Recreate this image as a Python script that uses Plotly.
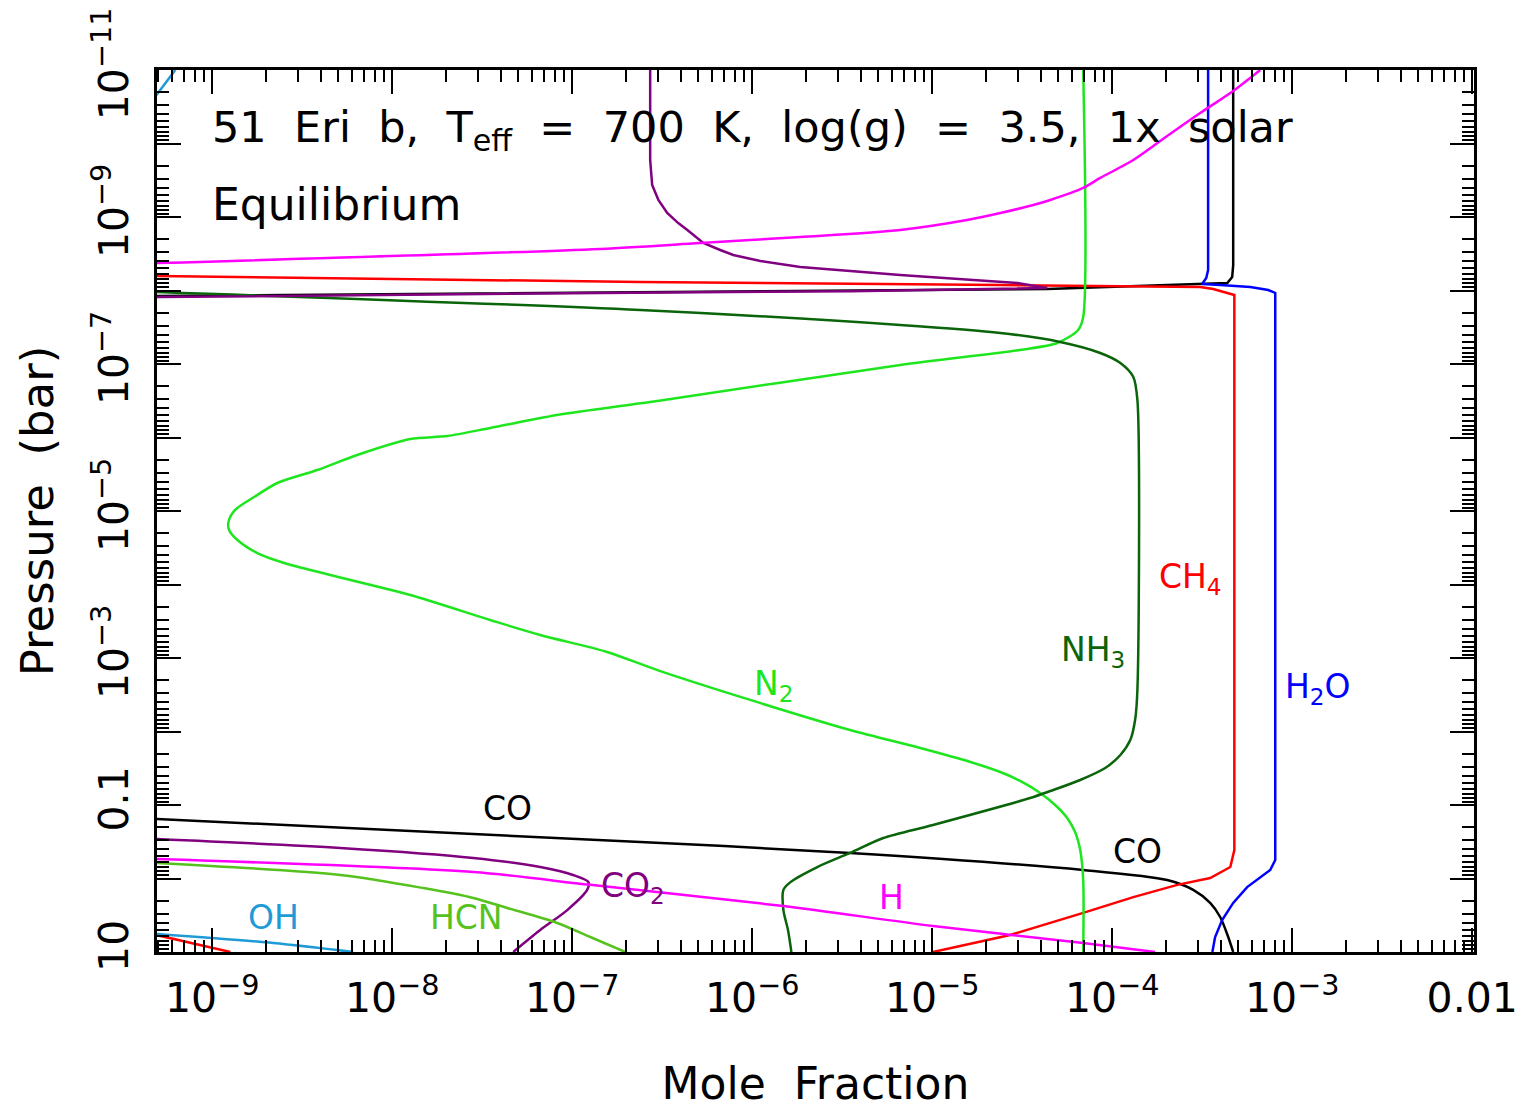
import math
import plotly.graph_objects as go

# ---------------- data (mole fraction vs pressure in bar) ----------------
h2o_x = [3.41e-4, 3.41e-4, 3.33e-4, 3.16e-4, 3.98e-4, 5.85e-4, 7.36e-4, 8.05e-4, 8.05e-4,
         8.05e-4, 7.55e-4, 5.62e-4, 4.70e-4, 4.08e-4, 3.73e-4, 3.60e-4]
h2o_p = [1e-11, 5.26e-9, 6.76e-9, 8.17e-9, 8.41e-9, 8.95e-9, 9.84e-9, 1.08e-8, 0.41,
         0.56, 0.766, 1.31, 2.15, 3.67, 6.25, 10]

co_top_x = [4.70e-4, 4.70e-4, 4.64e-4, 4.36e-4, 4.36e-5, 4.9e-10]
co_top_p = [1e-11, 4.5e-9, 6.55e-9, 7.91e-9, 9.55e-9, 1.19e-8]
co_bot_x = [4.9e-10, 2.39e-7, 3.50e-6, 6.90e-5, 2.02e-4, 2.82e-4, 3.50e-4, 3.98e-4, 4.41e-4, 4.70e-4]
co_bot_p = [0.155, 0.318, 0.449, 0.766, 1.05, 1.43, 2.15, 3.34, 6.25, 10]

ch4_x = [4.9e-10, 2.39e-7, 2.39e-5, 3.08e-4, 3.64e-4, 4.77e-4, 4.77e-4, 4.53e-4, 3.50e-4,
         2.30e-4, 1.31e-4, 8.58e-5, 6.90e-5, 2.71e-5, 1.01e-5]
ch4_p = [6.35e-9, 7.66e-9, 8.41e-9, 8.95e-9, 9.55e-9, 1.15e-8, 0.41, 0.698, 0.984,
         1.22, 1.79, 2.52, 2.94, 5.87, 10]
red_extra_x = [4.9e-10, 1.26e-9]
red_extra_p = [5.87, 10]

n2_x = [6.90e-5, 6.90e-5, 6.47e-5, 4.95e-5, 3.08e-5, 6.64e-6, 2.97e-7, 8.25e-8, 3.50e-8, 2.02e-8,
        1.26e-8, 6.39e-9, 3.83e-9, 2.30e-9, 1.71e-9, 1.34e-9, 1.23e-9, 1.24e-9, 1.38e-9, 1.78e-9,
        2.51e-9, 4.53e-9, 1.26e-8, 3.50e-8, 6.64e-8, 1.56e-7, 2.97e-7, 9.75e-7, 3.50e-6, 8.58e-6,
        1.63e-5, 2.39e-5, 3.08e-5, 3.98e-5, 4.82e-5, 5.62e-5, 6.22e-5, 6.64e-5, 6.90e-5, 6.90e-5]
n2_p = [1e-11, 2.30e-8, 3.44e-8, 5.18e-8, 6.45e-8, 1.03e-7, 3.19e-7, 4.94e-7, 7.43e-7, 9.55e-7,
        1.05e-6, 1.73e-6, 2.77e-6, 4.16e-6, 6.45e-6, 9.68e-6, 1.41e-5, 1.81e-5, 2.48e-5, 3.73e-5,
        5.09e-5, 7.43e-5, 1.39e-4, 3.04e-4, 4.86e-4, 8.28e-4, 1.46e-3, 3.72e-3, 9.55e-3, 0.0168,
        0.026, 0.0356, 0.0471, 0.0687, 0.100, 0.150, 0.233, 0.41, 1.05, 10]

nh3_x = [4.9e-10, 2.39e-7, 6.64e-6, 2.39e-5, 5.14e-5, 8.58e-5, 1.11e-4, 1.31e-4, 1.38e-4,
         1.38e-4, 1.34e-4, 1.26e-4, 1.11e-4, 9.14e-5, 6.64e-5, 4.53e-5, 3.50e-5, 1.01e-5,
         5.35e-6, 3.50e-6, 2.30e-6, 1.63e-6, 1.49e-6, 1.49e-6, 1.58e-6, 1.65e-6]
nh3_p = [1.05e-8, 1.84e-8, 2.94e-8, 3.78e-8, 5.02e-8, 7.08e-8, 9.68e-8, 1.50e-7, 3.09e-7,
         2.72e-3, 6.98e-3, 0.0131, 0.0209, 0.0314, 0.0457, 0.0646, 0.0804, 0.187,
         0.281, 0.449, 0.698, 1.12, 1.43, 2.69, 5.02, 10]

co2_top_x = [2.71e-7, 2.71e-7, 2.78e-7, 2.89e-7, 3.01e-7, 3.37e-7, 3.88e-7, 4.36e-7, 5.35e-7,
             6.64e-7, 7.84e-7, 1.11e-6, 1.85e-6, 6.64e-6, 1.56e-5, 2.97e-5, 4.36e-5, 3.50e-6,
             1.43e-7, 4.9e-10]
co2_top_p = [1e-11, 1.68e-10, 3.67e-10, 4.71e-10, 5.87e-10, 8.82e-10, 1.21e-9, 1.50e-9, 2.26e-9,
             2.81e-9, 3.29e-9, 3.97e-9, 4.79e-9, 6.15e-9, 7.19e-9, 7.91e-9, 9.25e-9, 1.02e-8,
             1.08e-8, 1.23e-8]
co2_bot_x = [4.9e-10, 5.14e-9, 2.82e-8, 6.64e-8, 1.01e-7, 1.23e-7, 1.21e-7, 9.38e-8, 6.64e-8, 4.70e-8]
co2_bot_p = [0.290, 0.385, 0.526, 0.698, 0.896, 1.12, 1.43, 2.69, 5.02, 10]

h_top_x = [6.64e-4, 4.70e-4, 3.08e-4, 2.02e-4, 1.31e-4, 8.58e-5, 6.90e-5, 4.53e-5, 3.64e-5,
           2.39e-5, 1.56e-5, 6.64e-6, 1.85e-6, 5.14e-7, 1.43e-7, 4.9e-10]
h_top_p = [1e-11, 1.93e-11, 3.85e-11, 7.91e-11, 1.68e-10, 2.94e-10, 4.03e-10, 5.87e-10, 6.87e-10,
           8.82e-10, 1.10e-9, 1.50e-9, 1.87e-9, 2.26e-9, 2.72e-9, 4.23e-9]
h_bot_x = [4.9e-10, 2.82e-8, 1.26e-7, 1.49e-6, 1.01e-5, 6.90e-5, 1.73e-4]
h_bot_p = [0.543, 0.817, 1.22, 2.37, 4.43, 7.55, 10]

hcn_x = [4.9e-10, 5.14e-9, 1.49e-8, 2.82e-8, 4.36e-8, 8.25e-8, 1.26e-7, 1.97e-7]
hcn_p = [0.615, 0.896, 1.35, 1.84, 2.52, 4.03, 6.25, 10]

oh_top_x = [6.23e-10, 4.9e-10]
oh_top_p = [1e-11, 2.19e-11]
oh_bot_x = [4.9e-10, 2.18e-9, 6.07e-9]
oh_bot_p = [5.69, 7.55, 10]

# tick labels
x_tickvals = [1e-9, 1e-8, 1e-7, 1e-6, 1e-5, 1e-4, 1e-3, 1e-2]
x_ticktext = ["10<sup>−9</sup>", "10<sup>−8</sup>", "10<sup>−7</sup>", "10<sup>−6</sup>",
              "10<sup>−5</sup>", "10<sup>−4</sup>", "10<sup>−3</sup>", "0.01"]
y_tickvals = [1e-11, 1e-10, 1e-9, 1e-8, 1e-7, 1e-6, 1e-5, 1e-4, 1e-3, 1e-2, 1e-1, 1, 10]
y_ticktext = ["10<sup>−11</sup>", "", "10<sup>−9</sup>", "", "10<sup>−7</sup>", "",
              "10<sup>−5</sup>", "", "10<sup>−3</sup>", "", "0.1", "", "10"]

# species labels: text, colour, position (mole fraction, pressure)
lab_text = ["CH<sub>4</sub>", "NH<sub>3</sub>", "H<sub>2</sub>O", "N<sub>2</sub>", "CO", "CO",
            "CO<sub>2</sub>", "H", "OH", "HCN"]
lab_color = ["#ff0000", "#0a640a", "#0000ff", "#1ee61e", "#000000", "#000000",
             "#800080", "#ff00ff", "#1e9bd7", "#55c21e"]
lab_x = [2.71e-4, 7.84e-5, 1.39e-3, 1.31e-6, 4.36e-8, 1.39e-4, 2.18e-7, 5.92e-6, 2.18e-9, 2.58e-8]
lab_p = [8.17e-5, 8.28e-4, 2.56e-3, 2.33e-3, 0.11, 0.435, 1.31, 1.79, 3.44, 3.44]

FONT = "DejaVu Sans"
LW = 2.5
SP = "\u00a0\u00a0"

fig = go.Figure()


def add(x, p, color, smooth=False):
    line = dict(color=color, width=LW)
    if smooth:
        line.update(shape="spline", smoothing=0.8)
    fig.add_trace(go.Scatter(x=x, y=p, mode="lines", line=line,
                             showlegend=False, hoverinfo="skip"))


add(co_top_x, co_top_p, "#000000")
add(co_bot_x, co_bot_p, "#000000", True)
add(h2o_x, h2o_p, "#0000ff")
add(ch4_x, ch4_p, "#ff0000")
add(red_extra_x, red_extra_p, "#ff0000")
add(n2_x, n2_p, "#1ee61e", True)
add(nh3_x, nh3_p, "#0a640a", True)
add(co2_top_x, co2_top_p, "#800080")
add(co2_bot_x, co2_bot_p, "#800080", True)
add(h_top_x, h_top_p, "#ff00ff", True)
add(h_bot_x, h_bot_p, "#ff00ff", True)
add(hcn_x, hcn_p, "#55c21e", True)
add(oh_top_x, oh_top_p, "#1e9bd7")
add(oh_bot_x, oh_bot_p, "#1e9bd7", True)

annotations = []
for t, c, x, p in zip(lab_text, lab_color, lab_x, lab_p):
    annotations.append(dict(x=math.log10(x), y=math.log10(p), xref="x", yref="y", text=t,
                            showarrow=False, font=dict(family=FONT, size=33, color=c)))

title_text = SP.join(["51", "Eri", "b,", "T<sub>eff</sub>", "=", "700", "K,", "log(g)", "=",
                      "3.5,", "1x", "solar"])
annotations.append(dict(x=0.0405, y=0.932, xref="paper", yref="paper", xanchor="left",
                        yanchor="middle", showarrow=False, text=title_text,
                        font=dict(family=FONT, size=43, color="black")))
annotations.append(dict(x=0.0405, y=0.847, xref="paper", yref="paper", xanchor="left",
                        yanchor="middle", showarrow=False, text="Equilibrium",
                        font=dict(family=FONT, size=44, color="black")))

axis_common = dict(type="log", showgrid=False, zeroline=False, showline=True, linecolor="black",
                   linewidth=2.5, mirror="allticks", ticks="inside", ticklen=24, tickwidth=2,
                   tickcolor="black", automargin=False,
                   minor=dict(ticks="inside", ticklen=12, tickwidth=2, tickcolor="black",
                              dtick="D1", showgrid=False),
                   tickfont=dict(family=FONT, size=41, color="black"))

fig.update_layout(
    width=1522, height=1109,
    margin=dict(l=157, r=48, t=70, b=157),
    paper_bgcolor="white", plot_bgcolor="white",
    xaxis=dict(axis_common, range=[-9.307, -1.99], tickvals=x_tickvals, ticktext=x_ticktext,
               ticklabelstandoff=8,
               title=dict(text="Mole" + SP + "Fraction",
                          font=dict(family=FONT, size=44, color="black"), standoff=55)),
    yaxis=dict(axis_common, range=[1, -11], tickvals=y_tickvals, ticktext=y_ticktext,
               tickangle=-90, ticklabelstandoff=10,
               title=dict(text="Pressure" + SP + "(bar)",
                          font=dict(family=FONT, size=45, color="black"), standoff=16)),
    annotations=annotations,
)

fig.write_html("out.html")
